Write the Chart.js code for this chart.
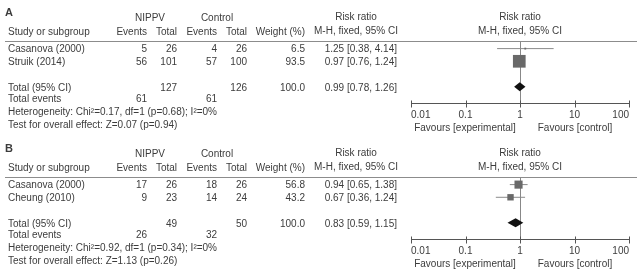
<!DOCTYPE html>
<html lang="en">
<head>
  <meta charset="UTF-8">
  <title>Forest plot</title>
  <script src="https://cdn.jsdelivr.net/npm/chart.js"></script>
  <style>
    html, body { margin: 0; padding: 0; background: #fff; }
    .painel { position: absolute; left: 0; width: 643px; height: 137px; }
    #painelA { top: 0; }
    #painelB { top: 136px; }
  </style>
</head>
<body>
  <div class="painel" id="painelA"><canvas id="graficoA" width="643" height="137"></canvas></div>
  <div class="painel" id="painelB"><canvas id="graficoB" width="643" height="137"></canvas></div>

  <script>
    // Panel A
    const studiesA = ['Casanova (2000)', 'Struik (2014)'];
    const eventsNippvA = [5, 56];
    const totalNippvA = [26, 101];
    const eventsControlA = [4, 57];
    const totalControlA = [26, 100];
    const weightA = [6.5, 93.5];
    const rrA = [1.25, 0.97];
    const lowA = [0.38, 0.76];
    const highA = [4.14, 1.24];
    const pooledTotalsA = [127, 126];
    const pooledEventsA = [61, 61];
    const pooledRrA = [0.99, 0.78, 1.26];
    const heterogeneityA = [0.17, 1, 0.68, 0];   // Chi2, df, p, I2
    const overallA = [0.07, 0.94];               // Z, p

    // Panel B
    const studiesB = ['Casanova (2000)', 'Cheung (2010)'];
    const eventsNippvB = [17, 9];
    const totalNippvB = [26, 23];
    const eventsControlB = [18, 14];
    const totalControlB = [26, 24];
    const weightB = [56.8, 43.2];
    const rrB = [0.94, 0.67];
    const lowB = [0.65, 0.36];
    const highB = [1.38, 1.24];
    const pooledTotalsB = [49, 50];
    const pooledEventsB = [26, 32];
    const pooledRrB = [0.83, 0.59, 1.15];
    const heterogeneityB = [0.92, 1, 0.34, 0];
    const overallB = [1.13, 0.26];

    // Eixo
    const axisTicks = [0.01, 0.1, 1, 10, 100];
    const tickLabels = ['0.01', '0.1', '1', '10', '100'];

    const FONTE = '10px "Liberation Sans", Arial, sans-serif';
    const COR_TEXTO = '#3c3c3c';

    function ci(rr, lo, hi) {
      return rr.toFixed(2) + ' [' + lo.toFixed(2) + ', ' + hi.toFixed(2) + ']';
    }

    function montarPainel(canvasId, p) {
      const rows = p.studies.map((_, i) => i + 1);
      const pooledRow = p.studies.length + 2;

      const linhasIC = p.studies.map((_, i) => ({
        data: [{ x: p.low[i], y: rows[i] }, { x: p.high[i], y: rows[i] }],
        showLine: true,
        borderColor: '#8a8a8a',
        borderWidth: 1,
        pointRadius: 0,
        order: 2
      }));

      const quadrados = {
        data: p.studies.map((_, i) => ({ x: p.rr[i], y: rows[i] })),
        pointStyle: 'rect',
        pointRadius: p.weight.map(w => (1 + w * 0.125) / Math.SQRT2),
        backgroundColor: '#696969',
        borderWidth: 0,
        order: 1
      };

      const desenho = {
        id: 'forest' + canvasId,
        beforeDatasetsDraw(chart) {
          const ctx = chart.ctx;
          const x = chart.scales.x;
          const area = chart.chartArea;
          const topo = Math.round(area.top) + 0.5;
          const base = Math.round(area.bottom) + 0.5;
          ctx.save();
          // header line
          ctx.strokeStyle = '#8c8c8c';
          ctx.lineWidth = 1;
          ctx.beginPath();
          ctx.moveTo(5, topo);
          ctx.lineTo(637, topo);
          ctx.stroke();
          // line of no effect
          const x1 = Math.round(x.getPixelForValue(1)) + 0.5;
          ctx.strokeStyle = '#888';
          ctx.beginPath();
          ctx.moveTo(x1, topo);
          ctx.lineTo(x1, base + 3);
          ctx.stroke();
          // axis
          ctx.strokeStyle = '#555';
          ctx.beginPath();
          ctx.moveTo(x.getPixelForValue(axisTicks[0]), base);
          ctx.lineTo(x.getPixelForValue(axisTicks[axisTicks.length - 1]), base);
          ctx.stroke();
          axisTicks.forEach(t => {
            const px = Math.round(x.getPixelForValue(t)) + 0.5;
            ctx.beginPath();
            ctx.moveTo(px, base - 3);
            ctx.lineTo(px, base + 4);
            ctx.stroke();
          });
          ctx.restore();
        },
        afterDatasetsDraw(chart) {
          const ctx = chart.ctx;
          const x = chart.scales.x;
          const y = chart.scales.y;
          const area = chart.chartArea;
          const ry = r => y.getPixelForValue(r);

          // pooled diamond
          const yc = ry(pooledRow);
          ctx.save();
          ctx.fillStyle = '#111';
          ctx.beginPath();
          ctx.moveTo(x.getPixelForValue(p.pooled[1]), yc);
          ctx.lineTo(x.getPixelForValue(p.pooled[0]), yc - 4.5);
          ctx.lineTo(x.getPixelForValue(p.pooled[2]), yc);
          ctx.lineTo(x.getPixelForValue(p.pooled[0]), yc + 4.5);
          ctx.closePath();
          ctx.fill();

          ctx.fillStyle = COR_TEXTO;
          ctx.font = FONTE;
          ctx.textBaseline = 'middle';
          const t = (s, px, r, align) => {
            ctx.textAlign = align || 'left';
            ctx.fillText(s, px, ry(r));
          };

          // panel letter
          ctx.font = 'bold 11px "Liberation Sans", Arial, sans-serif';
          t(p.letter, 5, -1.85);
          ctx.font = FONTE;

          // headers
          t('NIPPV', 150, -1.36, 'center');
          t('Control', 217, -1.36, 'center');
          t('Risk ratio', 356, -1.45, 'center');
          t('Risk ratio', 520, -1.45, 'center');
          t('Study or subgroup', 8, -0.3);
          t('Events', 147, -0.3, 'right');
          t('Total', 177, -0.3, 'right');
          t('Events', 217, -0.3, 'right');
          t('Total', 247, -0.3, 'right');
          t('Weight (%)', 305, -0.3, 'right');
          t('M-H, fixed, 95% CI', 356, -0.38, 'center');
          t('M-H, fixed, 95% CI', 520, -0.38, 'center');

          // studies
          p.studies.forEach((s, i) => {
            const r = rows[i] + 0.05;
            t(s, 8, r);
            t(String(p.eventsN[i]), 147, r, 'right');
            t(String(p.totalN[i]), 177, r, 'right');
            t(String(p.eventsC[i]), 217, r, 'right');
            t(String(p.totalC[i]), 247, r, 'right');
            t(p.weight[i].toFixed(1), 305, r, 'right');
            t(ci(p.rr[i], p.low[i], p.high[i]), 397, r, 'right');
          });

          // totals
          const rt = pooledRow + 0.12;
          t('Total (95% CI)', 8, rt);
          t(String(p.totals[0]), 177, rt, 'right');
          t(String(p.totals[1]), 247, rt, 'right');
          t('100.0', 305, rt, 'right');
          t(ci(p.pooled[0], p.pooled[1], p.pooled[2]), 397, rt, 'right');
          t('Total events', 8, pooledRow + 1.02);
          t(String(p.events[0]), 147, pooledRow + 1.02, 'right');
          t(String(p.events[1]), 217, pooledRow + 1.02, 'right');
          const h = p.het;
          t('Heterogeneity: Chi\u00b2=' + h[0].toFixed(2) + ', df=' + h[1] + ' (p=' + h[2].toFixed(2) +
            '); I\u00b2=' + h[3] + '%', 8, pooledRow + 2.0);
          t('Test for overall effect: Z=' + p.overall[0].toFixed(2) + ' (p=' + p.overall[1].toFixed(2) + ')',
            8, pooledRow + 3.02);

          // tick labels
          const base = area.bottom;
          ctx.textBaseline = 'middle';
          axisTicks.forEach((v, i) => {
            ctx.textAlign = i === 0 ? 'left' : (i === axisTicks.length - 1 ? 'right' : 'center');
            ctx.fillText(tickLabels[i], x.getPixelForValue(v), base + 12.5);
          });
          ctx.textAlign = 'center';
          ctx.fillText('Favours [experimental]', 465, base + 25.5);
          ctx.fillText('Favours [control]', 575, base + 25.5);
          ctx.restore();
        }
      };

      return new Chart(document.getElementById(canvasId), {
        type: 'scatter',
        data: { datasets: [quadrados].concat(linhasIC) },
        options: {
          responsive: false,
          animation: false,
          events: [],
          layout: { padding: { left: 411, right: 14, top: 41, bottom: 34 } },
          plugins: { legend: { display: false }, tooltip: { enabled: false } },
          scales: {
            x: { type: 'logarithmic', min: 0.01, max: 100, display: false },
            y: { type: 'linear', min: 0.4, max: 5.29, reverse: true, display: false }
          }
        },
        plugins: [desenho]
      });
    }

    montarPainel('graficoA', {
      letter: 'A', studies: studiesA, eventsN: eventsNippvA, totalN: totalNippvA,
      eventsC: eventsControlA, totalC: totalControlA, weight: weightA, rr: rrA, low: lowA, high: highA,
      totals: pooledTotalsA, events: pooledEventsA, pooled: pooledRrA, het: heterogeneityA, overall: overallA
    });

    montarPainel('graficoB', {
      letter: 'B', studies: studiesB, eventsN: eventsNippvB, totalN: totalNippvB,
      eventsC: eventsControlB, totalC: totalControlB, weight: weightB, rr: rrB, low: lowB, high: highB,
      totals: pooledTotalsB, events: pooledEventsB, pooled: pooledRrB, het: heterogeneityB, overall: overallB
    });
  </script>
</body>
</html>
